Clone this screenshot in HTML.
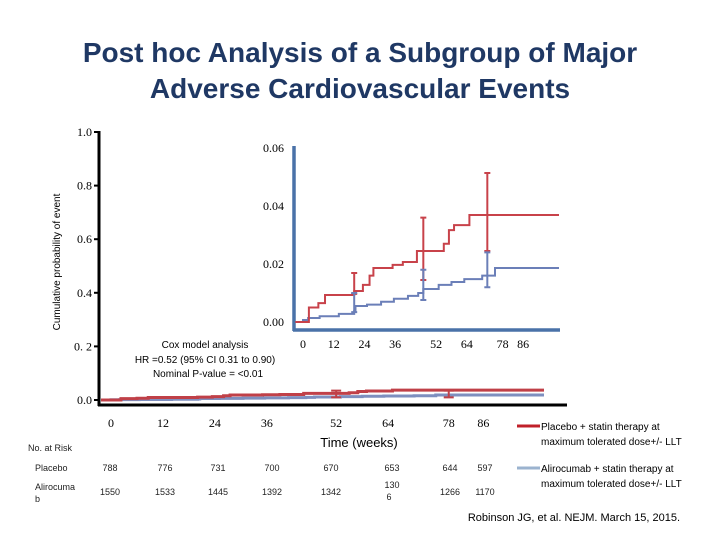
<!DOCTYPE html>
<html><head><meta charset="utf-8"><style>
body{margin:0;background:#fff;}
svg{display:block;font-family:"Liberation Sans",sans-serif;}
</style></head><body>
<svg id="c" width="720" height="540" viewBox="0 0 720 540">
<text x="360" y="62" text-anchor="middle" font-size="28" font-weight="bold" fill="#1f3864">Post hoc Analysis of a Subgroup of Major</text>
<text x="360" y="98" text-anchor="middle" font-size="28" font-weight="bold" fill="#1f3864">Adverse Cardiovascular Events</text>
<text transform="translate(60,262) rotate(-90)" text-anchor="middle" font-size="10" fill="#000">Cumulative probability of event</text>
<line x1="99" y1="131" x2="99" y2="406" stroke="#000" stroke-width="3"/>
<line x1="98" y1="405" x2="567" y2="405" stroke="#000" stroke-width="3"/>
<line x1="294" y1="146" x2="294" y2="331" stroke="#4a72a8" stroke-width="3.5"/>
<line x1="293" y1="330" x2="560" y2="330" stroke="#4a72a8" stroke-width="3.5"/>
<g id="mainTicks"></g><g id="insetTicks"></g><g id="curves"></g><g id="risk"></g>
<text x="205" y="348" text-anchor="middle" font-size="10">Cox model analysis</text>
<text x="205" y="363" text-anchor="middle" font-size="10">HR =0.52 (95% CI 0.31 to 0.90)</text>
<text x="208" y="377" text-anchor="middle" font-size="10">Nominal P-value = &lt;0.01</text>
<text x="359" y="447" text-anchor="middle" font-size="13">Time (weeks)</text>
<text x="28" y="451" font-size="9" fill="#222">No. at Risk</text>
<text x="35" y="471" font-size="9" fill="#222">Placebo</text>
<text x="35" y="490" font-size="9" fill="#222">Alirocuma</text>
<text x="35" y="502" font-size="9" fill="#222">b</text>
<line x1="517" y1="426" x2="540" y2="426" stroke="#c0202a" stroke-width="3"/>
<text x="541" y="430" font-size="10">Placebo + statin therapy at</text>
<text x="541" y="445" font-size="10">maximum tolerated dose+/- LLT</text>
<line x1="517" y1="468" x2="540" y2="468" stroke="#9bb3cf" stroke-width="3"/>
<text x="541" y="472" font-size="10">Alirocumab + statin therapy at</text>
<text x="541" y="487" font-size="10">maximum tolerated dose+/- LLT</text>
<text x="680" y="521" text-anchor="end" font-size="11">Robinson JG, et al. NEJM. March 15, 2015.</text>
</svg>
<script>
const mainYTicks=[0,0.2,0.4,0.6,0.8,1.0];
const mainYLabels=["0.0","0. 2","0.4","0.6","0.8","1.0"];
const weekTicks=[0,12,24,36,52,64,78,86];
const insetYTicks=[0,0.02,0.04,0.06];
const insetYLabels=["0.00","0.02","0.04","0.06"];
const placeboWeeks=[-3,2.3,6,8.6,20,23.4,26,27.5,35,39,44.5,55,57,59,65,100];
const placeboRisk=[0,0.005,0.0065,0.0093,0.0107,0.0128,0.016,0.0186,0.0197,0.0207,0.0245,0.027,0.0317,0.0334,0.0369,0.0369];
const alirocumabWeeks=[-3,0,2,6.5,14,20,20.5,25,30.5,35.5,41,45,47,53,58,63,70,75,100];
const alirocumabRisk=[0,0.0007,0.0014,0.002,0.0028,0.0038,0.0055,0.006,0.007,0.008,0.009,0.010,0.0114,0.0128,0.0138,0.0148,0.016,0.0186,0.0186];
const placeboCIWeeks=[20,47,72];
const placeboCILow=[0.0097,0.0145,0.0245];
const placeboCIHigh=[0.0169,0.036,0.0514];
const alirocumabCIWeeks=[20,47,72];
const alirocumabCILow=[0.0034,0.0076,0.012];
const alirocumabCIHigh=[0.010,0.018,0.024];
const placeboAtRisk=["788","776","731","700","670","653","644","597"];
const alirocumabAtRisk=["1550","1533","1445","1392","1342","130|6","1266","1170"];

const NS="http://www.w3.org/2000/svg";
function mk(t,a,p){const e=document.createElementNS(NS,t);for(const k in a)e.setAttribute(k,a[k]);p.appendChild(e);return e;}
const mx=w=>111+w*4.33, my=v=>400-v*268;
const ix=w=>303+w*2.56, iy=v=>322-v*2900;
const mt=document.getElementById('mainTicks'), it=document.getElementById('insetTicks');
const mainYPos=[400,342,285,233,177,132];
mainYTicks.forEach((v,i)=>{
  const y=my(v)+(mainYPos[i]-my(v))*0; 
  const l=mk('line',{x1:94,x2:99,y1:my(v),y2:my(v),stroke:'#000','stroke-width':2},mt);
  
  
  const t=mk('text',{x:92,y:my(v)+4,'text-anchor':'end','font-size':12,'font-family':'Liberation Serif, serif'},mt);
  t.textContent=mainYLabels[i];
  
  
});
weekTicks.forEach(w=>{
  const t=mk('text',{x:mx(w),y:427,'text-anchor':'middle','font-size':12,'font-family':'Liberation Serif, serif'},mt);
  t.textContent=w;
  
  
  const u=mk('text',{x:ix(w),y:348,'text-anchor':'middle','font-size':12,'font-family':'Liberation Serif, serif'},it);
  u.textContent=w;
  
  
});
insetYTicks.forEach((v,i)=>{
  const t=mk('text',{x:284,y:iy(v)+4,'text-anchor':'end','font-size':12,'font-family':'Liberation Serif, serif'},it);
  t.textContent=insetYLabels[i];
  
  
});
const cv=document.getElementById('curves');
function step(ws,vs,fx,fy,xmin){let d='';ws.forEach((w,i)=>{const x=Math.max(fx(w),xmin),y=fy(vs[i]);d+=i===0?`M${x},${y}`:`H${x}V${y}`;});return d;}
function curve(ws,vs,fx,fy,xmin,col,sw,name){
  const p=mk('path',{d:step(ws,vs,fx,fy,xmin),fill:'none',stroke:col,'stroke-width':sw},cv);
  
  
}
function ci(ws,lo,hi,fx,fy,col,name){
  ws.forEach((w,i)=>{
    const x=fx(w);
    const p=mk('path',{d:`M${x},${fy(lo[i])}V${fy(hi[i])}M${x-3},${fy(lo[i])}H${x+3}M${x-3},${fy(hi[i])}H${x+3}`,stroke:col,'stroke-width':2,fill:'none'},cv);
    
    
  });
}
curve(alirocumabWeeks,alirocumabRisk,mx,my,101,'#7e8fbf',3,'main-alirocumab-curve');
curve(placeboWeeks,placeboRisk,mx,my,101,'#c04048',3,'main-placebo-curve');
curve(alirocumabWeeks,alirocumabRisk,ix,iy,295,'#6b7fb8',2,'inset-alirocumab-curve');
curve(placeboWeeks,placeboRisk,ix,iy,295,'#c8424a',2,'inset-placebo-curve');
ci(placeboCIWeeks,placeboCILow,placeboCIHigh,ix,iy,'#c8424a','inset-placebo-ci');
ci(alirocumabCIWeeks,alirocumabCILow,alirocumabCIHigh,ix,iy,'#6b7fb8','inset-alirocumab-ci');
[52,78].forEach(w=>{
  const p=mk('path',{d:`M${mx(w)-5},${my(0.035)}H${mx(w)+5}M${mx(w)},${my(0.035)}V${my(0.01)}M${mx(w)-5},${my(0.01)}H${mx(w)+5}`,stroke:'#c04048','stroke-width':2,fill:'none'},cv);
  
  
});
const rk=document.getElementById('risk');
const riskX=[110,165,218,272,331,392,450,485];
placeboAtRisk.forEach((s,i)=>{
  const t=mk('text',{x:riskX[i],y:471,'text-anchor':'middle','font-size':9,fill:'#222'},rk);
  t.textContent=s;
  
  
});
alirocumabAtRisk.forEach((s,i)=>{
  const parts=s.split('|');
  parts.forEach((p,j)=>{
    const t=mk('text',{x:riskX[i]+(parts.length>1&&j===1?-3:0),y:parts.length>1?488+j*12:495,'text-anchor':'middle','font-size':9,fill:'#222'},rk);
    t.textContent=p;
    
    
  });
});
</script>
</body></html>
